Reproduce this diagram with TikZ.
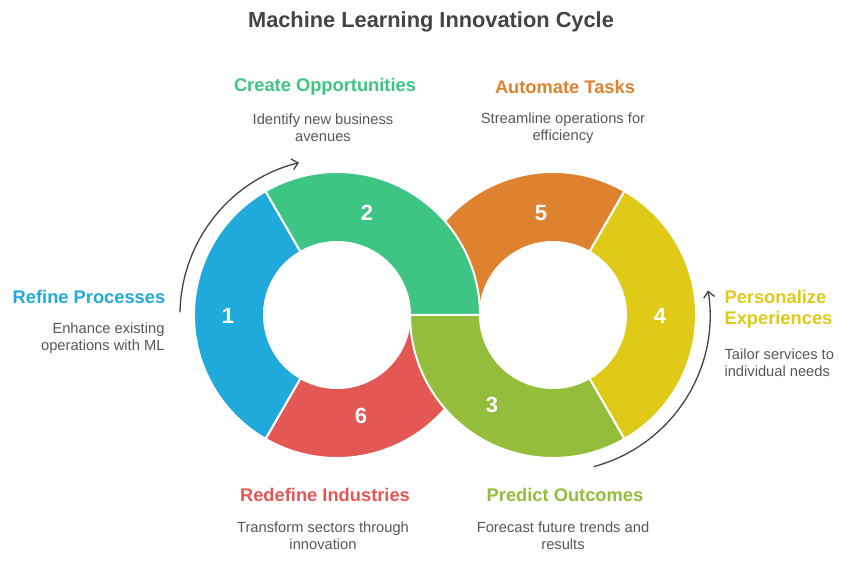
\documentclass[tikz,border=0pt]{standalone}
\usepackage{fontspec}
\setmainfont{Liberation Sans}
\usetikzlibrary{calc,arrows.meta}
\definecolor{cblue}{HTML}{20AADB}
\definecolor{cgreen}{HTML}{3EC483}
\definecolor{corange}{HTML}{DE822F}
\definecolor{cyellow}{HTML}{DECA17}
\definecolor{clime}{HTML}{93BD3B}
\definecolor{cred}{HTML}{E35754}
\definecolor{cgray}{HTML}{444444}
\begin{document}
\begin{tikzpicture}[x=1pt,y=1pt,
  seg/.style={fill=#1,draw=white,line width=2pt},
  num/.style={text=white,font=\bfseries\fontsize{22}{24}\selectfont},
  head/.style={font=\bfseries\fontsize{18.3}{21}\selectfont},
  desc/.style={text=cgray!90,font=\fontsize{14.7}{17}\selectfont,align=center},
  cyc/.style={cgray,line width=1.3pt,-{Straight Barb[length=6pt,width=11pt]}}]
\useasboundingbox (0,0) rectangle (861,565);
\coordinate (L) at (337,250);
\coordinate (R) at (553,250);
\newcommand{\sector}[4]{\path[seg=#4] ($(#1)+(#2:143)$) arc[start angle=#2,end angle=#3,radius=143] -- ($(#1)+(#3:73)$) arc[start angle=#3,end angle=#2,radius=73] -- cycle;}
\sector{R}{60}{180}{corange}
\sector{L}{240}{360}{cred}
\sector{R}{180}{300}{clime}
\sector{R}{-60}{60}{cyellow}
\sector{L}{120}{240}{cblue}
\sector{L}{0}{120}{cgreen}
\node[num] (n1) at (228,249) {1};
\node[num] (n2) at (367,352) {2};
\node[num] (n5) at (541,352) {5};
\node[num] (n4) at (660,249) {4};
\node[num] (n3) at (492,160) {3};
\node[num] (n6) at (361,149) {6};
\coordinate (a1) at ($(L)+(179:157)$);
\draw[cyc] (a1) arc[start angle=179,end angle=104,radius=157];
\coordinate (b1) at ($(R)+(-75:157)$);
\draw[cyc] (b1) arc[start angle=-75,end angle=9,radius=157];
\node[font=\bfseries\fontsize{21.8}{24}\selectfont,text=cgray] (title) at (431,543) {Machine Learning Innovation Cycle};
\node[head,text=cgreen] (h2) at (325,478) {Create Opportunities};
\node[desc] (d2) at (323,437) {Identify new business\\avenues};
\node[head,text=corange] (h5) at (565,478) {Automate Tasks};
\node[desc] (d5) at (563,437) {Streamline operations for\\efficiency};
\node[head,text=cblue] (h1) at (89,268) {Refine Processes};
\node[desc,align=right,anchor=east] (d1) at (168,227) {Enhance existing\\operations with ML};
\node[head,text=cyellow,align=left,anchor=west] (h4) at (721,256) {Personalize\\Experiences};
\node[desc,align=left,anchor=west] (d4) at (721,202) {Tailor services to\\individual needs};
\node[head,text=cred] (h6) at (325,70) {Redefine Industries};
\node[desc] (d6) at (323,29) {Transform sectors through\\innovation};
\node[head,text=clime] (h3) at (565,70) {Predict Outcomes};
\node[desc] (d3) at (563,29) {Forecast future trends and\\results};
\end{tikzpicture}
\end{document}
